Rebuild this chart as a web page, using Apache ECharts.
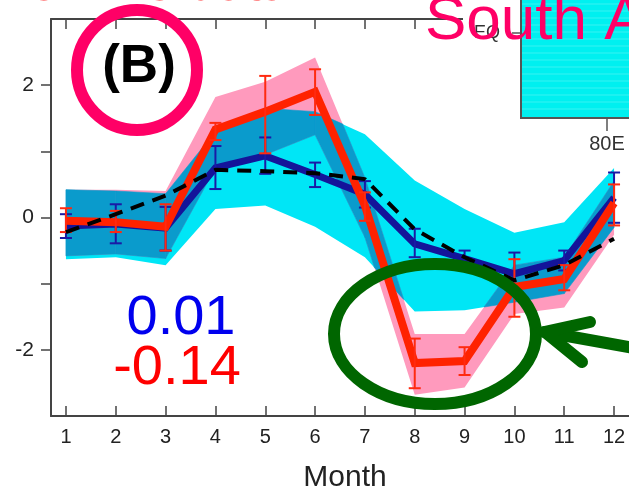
<!DOCTYPE html>
<html lang="en">
<head>
<meta charset="utf-8">
<title>Monthly anomaly (B)</title>
<script src="https://cdn.jsdelivr.net/npm/echarts@6/dist/echarts.min.js"></script>
<style>
    html, body { margin: 0; padding: 0; background: #fff; }
    #chart { width: 629px; height: 493px; }
</style>
</head>
<body>
<div id="chart"></div>
<script>
    // values
    var months = [1, 2, 3, 4, 5, 6, 7, 8, 9, 10, 11, 12];
    var yLabels = [-2, 0, 2];
    var yTicks = [-2, -1, 0, 1, 2];

    var redMean = [-0.05, -0.07, -0.14, 1.33, 1.6, 1.9, 0.18, -2.2, -2.17, -1.05, -0.93, 0.22];
    var redLo = [-0.22, -0.22, -0.5, 1.17, 0.97, 1.55, -0.05, -2.58, -2.38, -1.5, -1.1, -0.12];
    var redHi = [0.14, 0.1, 0.2, 1.43, 2.14, 2.24, 0.38, -1.83, -1.96, -0.63, -0.72, 0.5];

    var blueMean = [-0.13, -0.1, -0.16, 0.75, 0.93, 0.65, 0.35, -0.4, -0.62, -0.85, -0.65, 0.3];
    var blueLo = [-0.31, -0.39, -0.5, 0.43, 0.66, 0.46, 0.15, -0.6, -0.68, -1.1, -0.8, -0.08];
    var blueHi = [0.05, 0.2, 0.16, 1.08, 1.21, 0.83, 0.55, -0.17, -0.5, -0.53, -0.5, 0.68];

    var dashMean = [-0.22, 0.05, 0.33, 0.72, 0.7, 0.67, 0.58, -0.18, -0.6, -0.95, -0.72, -0.32];

    var cyanLo = [-0.63, -0.6, -0.72, 0.13, 0.18, -0.14, -0.6, -1.42, -1.4, -1.28, -1.15, -0.15];
    var cyanHi = [0.42, 0.4, 0.36, 1.3, 1.65, 1.6, 1.26, 0.56, 0.13, -0.23, -0.07, 0.75];

    var pinkLo = [-0.58, -0.55, -0.62, 0.75, 0.95, 1.25, -0.3, -2.68, -2.57, -1.46, -1.36, -0.26];
    var pinkHi = [0.42, 0.42, 0.4, 1.82, 2.05, 2.42, 0.6, -1.76, -1.76, -0.72, -0.6, 0.55];

    var FONT = 'Liberation Sans, Arial, sans-serif';

    function pairs(ys) {
        return months.map(function (m, i) { return [m, ys[i]]; });
    }

    // full band as one polygon
    function band(lo, hi, color, z) {
        return {
            type: 'custom', z: z, silent: true, clip: true,
            data: [[months[0], lo[0]]],
            renderItem: function (params, api) {
                var pts = [];
                for (var i = 0; i < months.length; i++) pts.push(api.coord([months[i], hi[i]]));
                for (var j = months.length - 1; j >= 0; j--) pts.push(api.coord([months[j], lo[j]]));
                return { type: 'polygon', shape: { points: pts }, style: { fill: color } };
            }
        };
    }

    function side(a, b, p) {
        return (b[0] - a[0]) * (p[1] - a[1]) - (b[1] - a[1]) * (p[0] - a[0]);
    }

    // clip convex polygon by convex polygon (Sutherland-Hodgman)
    function clipPoly(subject, clip) {
        var out = subject;
        for (var i = 0; i < clip.length && out.length; i++) {
            var a = clip[i], b = clip[(i + 1) % clip.length];
            var input = out;
            out = [];
            for (var j = 0; j < input.length; j++) {
                var p = input[j], q = input[(j + 1) % input.length];
                var dp = side(a, b, p), dq = side(a, b, q);
                if (dp >= 0) out.push(p);
                if ((dp >= 0) !== (dq >= 0)) {
                    var t = dp / (dp - dq);
                    out.push([p[0] + t * (q[0] - p[0]), p[1] + t * (q[1] - p[1])]);
                }
            }
        }
        return out;
    }

    // where the cyan and pink bands overlap, drawn per month segment
    var overlap = {
        type: 'custom', z: 1, silent: true, clip: true,
        data: months.slice(0, -1).map(function (m, i) { return [m, cyanLo[i]]; }),
        renderItem: function (params, api) {
            var i = params.dataIndex;
            function quad(lo, hi) {
                return [api.coord([months[i], hi[i]]), api.coord([months[i + 1], hi[i + 1]]),
                        api.coord([months[i + 1], lo[i + 1]]), api.coord([months[i], lo[i]])];
            }
            var pts = clipPoly(quad(cyanLo, cyanHi), quad(pinkLo, pinkHi));
            if (pts.length < 3) return null;
            return { type: 'polygon', shape: { points: pts },
                     style: { fill: '#0a9bcc', stroke: '#0a9bcc', lineWidth: 0.6 } };
        }
    };

    function errBars(lo, hi, color, z) {
        return {
            type: 'custom', z: z, silent: true,
            encode: { x: 0, y: [1, 2] },
            data: months.map(function (m, i) { return [m, lo[i], hi[i]]; }),
            renderItem: function (params, api) {
                var x = api.value(0);
                var p1 = api.coord([x, api.value(1)]);
                var p2 = api.coord([x, api.value(2)]);
                var w = 6, st = { stroke: color, lineWidth: 2 };
                return {
                    type: 'group',
                    children: [
                        { type: 'line', shape: { x1: p1[0], y1: p1[1], x2: p2[0], y2: p2[1] }, style: st },
                        { type: 'line', shape: { x1: p1[0] - w, y1: p1[1], x2: p1[0] + w, y2: p1[1] }, style: st },
                        { type: 'line', shape: { x1: p2[0] - w, y1: p2[1], x2: p2[0] + w, y2: p2[1] }, style: st }
                    ]
                };
            }
        };
    }

    var axisCol = '#444';

    // inset map stripes
    var stripes = [];
    for (var s = 4; s < 116; s += 7) {
        stripes.push({ type: 'line', z: 101, silent: true,
            shape: { x1: 522, y1: s, x2: 629, y2: s },
            style: { stroke: 'rgba(255,255,255,0.22)', lineWidth: 1 } });
    }

    var option = {
        animation: false,
        backgroundColor: '#fff',
        grid: { left: 51, top: 19, right: -9, bottom: 77 },
        xAxis: [{
            type: 'value', min: 0.7, max: 12.3, position: 'bottom',
            axisLine: { onZero: false, lineStyle: { color: axisCol, width: 2 } },
            axisTick: { inside: true, length: 10, customValues: months, lineStyle: { color: axisCol, width: 1.5 } },
            axisLabel: { customValues: months, margin: 11, fontSize: 20, color: '#222', fontFamily: FONT },
            splitLine: { show: false }
        }, {
            type: 'value', min: 0.7, max: 12.3, position: 'top',
            axisLine: { onZero: false, lineStyle: { color: axisCol, width: 2 } },
            axisTick: { inside: true, length: 10, customValues: months, lineStyle: { color: axisCol, width: 1.5 } },
            axisLabel: { show: false },
            splitLine: { show: false }
        }],
        yAxis: {
            type: 'value', min: -3, max: 3,
            axisLine: { show: true, onZero: false, lineStyle: { color: axisCol, width: 2 } },
            axisTick: { show: true, length: 10, customValues: yTicks, lineStyle: { color: axisCol, width: 1.5 } },
            axisLabel: { customValues: yLabels, margin: 17, fontSize: 21, color: '#222', fontFamily: FONT },
            splitLine: { show: false }
        },
        series: [
            band(cyanLo, cyanHi, '#00e6f6', 1),
            band(pinkLo, pinkHi, '#ff9abd', 1),
            overlap,
            {
                type: 'line', z: 2, data: pairs(blueMean), symbol: 'none', silent: true,
                lineStyle: { color: '#14149a', width: 7, join: 'miter' }
            },
            errBars(blueLo, blueHi, '#1a1aa6', 3),
            {
                type: 'line', z: 4, data: pairs(redMean), symbol: 'none', silent: true,
                lineStyle: { color: '#ff2200', width: 8, join: 'miter' }
            },
            errBars(redLo, redHi, '#ff2a10', 5),
            {
                type: 'line', z: 6, data: pairs(dashMean), symbol: 'none', silent: true,
                lineStyle: { color: '#000', width: 4, type: [14, 9] }
            }
        ],
        graphic: [
            // white box behind the inset map
            { type: 'rect', z: 100, silent: true, shape: { x: 463, y: 0, width: 170, height: 154 }, style: { fill: '#fff' } },
            { type: 'rect', z: 101, silent: true, shape: { x: 521, y: -10, width: 130, height: 128 },
              style: { fill: '#00f0f0', stroke: '#555', lineWidth: 2 } }
        ].concat(stripes).concat([
            { type: 'line', z: 101, silent: true, shape: { x1: 512, y1: 33, x2: 521, y2: 33 }, style: { stroke: '#555', lineWidth: 1.5 } },
            { type: 'line', z: 101, silent: true, shape: { x1: 607, y1: 118, x2: 607, y2: 131 }, style: { stroke: '#555', lineWidth: 1.5 } },
            { type: 'text', z: 101, silent: true, x: 474, y: 33,
              style: { text: 'EQ', font: '18px ' + FONT, fill: '#333', verticalAlign: 'middle' } },
            { type: 'text', z: 101, silent: true, x: 607, y: 144,
              style: { text: '80E', font: '20px ' + FONT, fill: '#333', align: 'center', verticalAlign: 'middle' } },
            { type: 'text', z: 102, silent: true, x: 425, y: 22,
              style: { text: 'South Asia', font: '62px ' + FONT, fill: '#ff0066', verticalAlign: 'middle' } },
            { type: 'text', z: 102, silent: true, x: 290, y: -14,
              style: { text: 'CMIP5 AR5 data', font: '52px ' + FONT, fill: '#ff2020', align: 'right', verticalAlign: 'middle' } },
            // (B) label in ring
            { type: 'circle', z: 102, silent: true, shape: { cx: 137, cy: 70, r: 60 },
              style: { fill: 'none', stroke: '#ff0066', lineWidth: 12 } },
            { type: 'text', z: 102, silent: true, x: 139, y: 67,
              style: { text: '(B)', font: 'bold 53px ' + FONT, fill: '#000', align: 'center', verticalAlign: 'middle' } },
            // correlation numbers
            { type: 'text', z: 102, silent: true, x: 181, y: 319,
              style: { text: '0.01', font: '56px ' + FONT, fill: '#0000ee', align: 'center', verticalAlign: 'middle' } },
            { type: 'text', z: 102, silent: true, x: 177, y: 369,
              style: { text: '-0.14', font: '56px ' + FONT, fill: '#ff0000', align: 'center', verticalAlign: 'middle' } },
            // green ellipse and arrow
            { type: 'ellipse', z: 102, silent: true, shape: { cx: 435, cy: 334, rx: 101, ry: 70 },
              style: { fill: 'none', stroke: '#006600', lineWidth: 12 } },
            { type: 'line', z: 102, silent: true, shape: { x1: 545, y1: 332, x2: 640, y2: 349 },
              style: { stroke: '#006600', lineWidth: 12, lineCap: 'round' } },
            { type: 'polyline', z: 102, silent: true, shape: { points: [[590, 322], [545, 332], [582, 362]] },
              style: { stroke: '#006600', lineWidth: 12, lineCap: 'round', lineJoin: 'miter', fill: 'none' } },
            { type: 'text', z: 102, silent: true, x: 345, y: 478,
              style: { text: 'Month', font: '30px ' + FONT, fill: '#222', align: 'center', verticalAlign: 'middle' } }
        ])
    };

    var chart = echarts.init(document.getElementById('chart'));
    chart.setOption(option);
</script>
</body>
</html>
